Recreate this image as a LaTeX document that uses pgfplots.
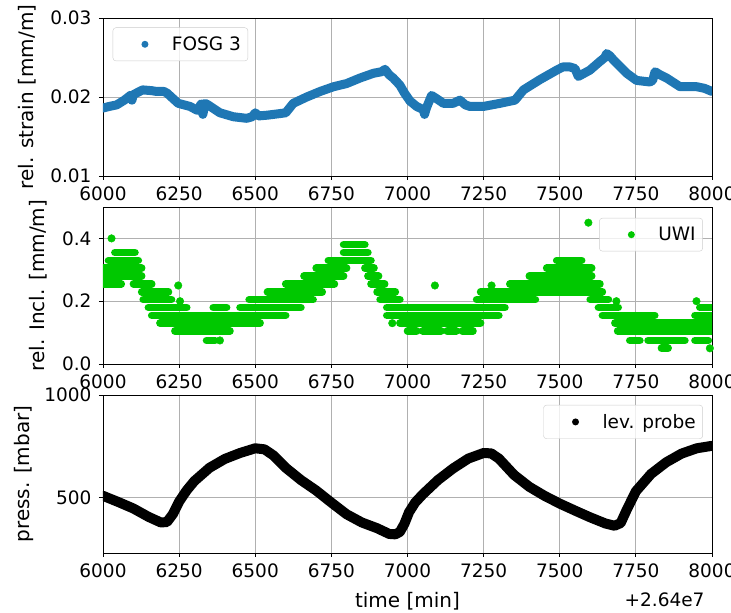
\documentclass[border=0pt]{standalone}
\usepackage{fontspec}
\setmainfont{DejaVu Sans}
\usepackage{pgfplots}
\pgfplotsset{compat=1.18}

\definecolor{mplblue}{HTML}{1F77B4}
\definecolor{uwigreen}{RGB}{0,200,0}
\definecolor{gridgray}{HTML}{B0B0B0}

\newcommand{\fs}{\fontsize{18.5}{22}\selectfont}
\newcommand{\fl}{\fontsize{20}{24}\selectfont}

\pgfplotsset{
  panel/.style={
    scale only axis, width=609pt, height=158pt,
    xmin=6000, xmax=8000,
    xtick={6000,6250,...,8000},
    scaled ticks=false,
    tick pos=left, tick align=outside,
    major tick length=4pt,
    tick style={black, line width=0.8pt},
    axis line style={line width=0.9pt},
    grid=major, grid style={gridgray, line width=0.8pt},
    /pgf/number format/assume math mode=true,
    /pgf/number format/1000 sep={},
    tick label style={font=\fs},
    xticklabel style={yshift=-3pt},
    yticklabel style={xshift=-4pt},
    label style={font=\fl},
    legend style={font=\fs, draw=black!20, rounded corners=3pt, fill=white,
      fill opacity=0.8, text opacity=1, inner xsep=5pt, inner ysep=7pt,
      legend cell align=left},
  },
  % scatter-style legend key: one dot, then room before the text
  dotkey/.style={legend image code/.code={
      \path[draw=none, fill=none] (0pt,0pt) -- (52pt,0pt);
      \fill[#1, draw=none, fill opacity=1] (27pt,0pt) circle (3.5pt);}},
}

\begin{document}
\begin{tikzpicture}
\path[use as bounding box] (0,0) rectangle (731pt,613pt);

% strain
\begin{axis}[panel, at={(103pt,437pt)}, anchor=south west,
  ymin=0.01, ymax=0.03, ytick={0.01,0.02,0.03},
  yticklabel style={/pgf/number format/fixed, /pgf/number format/precision=2,
    /pgf/number format/fixed zerofill},
  ylabel={rel. strain [mm/m]},
  ylabel style={at={([xshift=-75.5pt]rel axis cs:0,0.5)}, anchor=center},
  legend style={at={(0.016,0.94)}, anchor=north west}]
\addlegendimage{dotkey=mplblue}
\addlegendentry{FOSG 3}
\addplot[mplblue, line width=9pt, line join=round, line cap=round, forget plot] coordinates {
(6000,0.0186) (6020,0.0188) (6045,0.0190) (6070,0.0196) (6090,0.0202) (6095,0.0196)
(6100,0.0203) (6130,0.0209) (6160,0.0208) (6176,0.0207) (6200,0.0207) (6210,0.0205)
(6247,0.0192) (6286,0.0188) (6310,0.0183) (6322,0.0191) (6328,0.0178) (6335,0.0192)
(6345,0.0190) (6384,0.0180) (6428,0.0175) (6472,0.0173) (6490,0.0175) (6500,0.0180)
(6510,0.0176) (6540,0.0177) (6581,0.0179) (6600,0.0180) (6625,0.0192) (6669,0.0200)
(6713,0.0207) (6757,0.0213) (6800,0.0217) (6844,0.0224) (6888,0.0230) (6915,0.0232)
(6926,0.0235) (6940,0.0228) (6953,0.0224) (6975,0.0215) (6990,0.0205) (7008,0.0195)
(7030,0.0188) (7052,0.0184) (7056,0.0178) (7062,0.0186) (7079,0.0202) (7095,0.0198)
(7118,0.0192) (7150,0.0192) (7172,0.0196) (7190,0.0190) (7205,0.0188) (7249,0.0188)
(7304,0.0192) (7353,0.0196) (7381,0.0209) (7435,0.0222) (7490,0.0234) (7510,0.0238)
(7534,0.0238) (7550,0.0236) (7561,0.0226) (7599,0.0234) (7632,0.0245) (7648,0.0250)
(7654,0.0255) (7665,0.0252) (7676,0.0247) (7720,0.0230) (7752,0.0221) (7796,0.0219)
(7805,0.0221) (7813,0.0232) (7830,0.0228) (7851,0.0224) (7895,0.0213) (7950,0.0213)
(7975,0.0211) (8000,0.0207)
};
\end{axis}

% inclination
\begin{axis}[panel, at={(103pt,249pt)}, anchor=south west, height=157pt,
  ymin=0, ymax=0.5, ytick={0,0.2,0.4},
  yticklabel style={/pgf/number format/fixed, /pgf/number format/precision=1,
    /pgf/number format/fixed zerofill},
  ylabel={rel. Incl. [mm/m]},
  ylabel style={at={([xshift=-65pt]rel axis cs:0,0.5)}, anchor=center},
  legend style={at={(0.985,0.93)}, anchor=north east}]
\addlegendimage{dotkey=uwigreen}
\addlegendentry{UWI}
% runs of points on each reading level
\addplot[uwigreen, line width=7.6pt, line cap=round, unbounded coords=jump, forget plot] coordinates {
(6790,0.38) (6860,0.38) (6860,nan)
(6039,0.355) (6105,0.355) (6105,nan) (6790,0.355) (6870,0.355) (6870,nan)
(6018,0.33) (6116,0.33) (6116,nan) (6740,0.33) (6880,0.33) (6880,nan) (7490,0.33) (7572,0.33) (7572,nan)
(6000,0.305) (6127,0.305) (6127,nan) (6700,0.305) (6800,0.305) (6800,nan) (6860,0.305) (6890,0.305) (6890,nan) (7457,0.305) (7605,0.305) (7605,nan)
(6000,0.28) (6127,0.28) (6127,nan) (6660,0.28) (6790,0.28) (6790,nan) (6870,0.28) (6905,0.28) (6905,nan) (7400,0.28) (7605,0.28) (7605,nan)
(6000,0.255) (6060,0.255) (6060,nan) (6100,0.255) (6160,0.255) (6160,nan) (6600,0.255) (6760,0.255) (6760,nan) (6880,0.255) (6925,0.255) (6925,nan) (7336,0.255) (7632,0.255) (7632,nan)
(6127,0.23) (6215,0.23) (6215,nan) (6540,0.23) (6720,0.23) (6720,nan) (6900,0.23) (6960,0.23) (6960,nan) (7240,0.23) (7640,0.23) (7640,nan)
(6132,0.205) (6225,0.205) (6225,nan) (6480,0.205) (6690,0.205) (6690,nan) (6910,0.205) (6975,0.205) (6975,nan) (7227,0.205) (7420,0.205) (7420,nan) (7600,0.205) (7660,0.205) (7660,nan)
(6149,0.18) (6275,0.18) (6275,nan) (6362,0.18) (6406,0.18) (6406,nan) (6450,0.18) (6650,0.18) (6650,nan) (6932,0.18) (7320,0.18) (7320,nan) (7627,0.18) (7692,0.18) (7692,nan) (7960,0.18) (8000,0.18) (8000,nan)
(6160,0.155) (6600,0.155) (6600,nan) (6932,0.155) (7300,0.155) (7300,nan) (7640,0.155) (7812,0.155) (7812,nan) (7944,0.155) (8000,0.155) (8000,nan)
(6187,0.13) (6516,0.13) (6516,nan) (6975,0.13) (7240,0.13) (7240,nan) (7681,0.13) (8000,0.13) (8000,nan)
(6236,0.105) (6417,0.105) (6417,nan) (7000,0.105) (7030,0.105) (7030,nan) (7050,0.105) (7110,0.105) (7110,nan) (7130,0.105) (7160,0.105) (7160,nan) (7180,0.105) (7215,0.105) (7215,nan) (7690,0.105) (8000,0.105) (8000,nan)
(6340,0.075) (6368,0.075) (6368,nan) (7730,0.075) (7763,0.075) (7763,nan) (7790,0.075) (7911,0.075) (7911,nan) (7944,0.075) (7988,0.075) (7988,nan)
(7834,0.05) (7856,0.05)
};
\addplot[only marks, mark=*, mark size=3.8pt, uwigreen, forget plot] coordinates {
(6028,0.4) (6247,0.25) (6253,0.2) (6384,0.075) (6950,0.13) (6982,0.13)
(7090,0.25) (7276,0.25) (7594,0.45) (7686,0.2) (7949,0.2) (7993,0.05)
};
\end{axis}

% pressure
\begin{axis}[panel, name=bot, at={(103pt,60pt)}, anchor=south west,
  ymin=229, ymax=1000, ytick={500,1000},
  ylabel={press. [mbar]}, xlabel={time [min]},
  ylabel style={at={([xshift=-79pt]rel axis cs:0,0.5)}, anchor=center},
  xlabel style={at={([yshift=-48pt]rel axis cs:0.5,0)}, anchor=center},
  legend style={at={(0.985,0.937)}, anchor=north east}]
\addlegendimage{dotkey=black}
\addlegendentry{lev. probe}
\addplot[black, line width=10pt, line join=round, line cap=round, forget plot] coordinates {
(6000,508) (6050,478) (6100,446) (6150,405) (6190,378) (6210,380) (6230,420)
(6250,480) (6275,535) (6300,580) (6350,645) (6400,688) (6450,717) (6500,740)
(6530,735) (6560,705) (6600,645) (6650,585) (6700,534) (6750,475) (6800,418)
(6850,378) (6900,350) (6940,322) (6960,320) (6975,332) (6990,372) (7005,428)
(7025,475) (7050,515) (7100,585) (7150,642) (7200,690) (7250,717) (7275,715)
(7300,690) (7350,610) (7400,552) (7450,508) (7500,470) (7550,436) (7600,403)
(7650,373) (7680,362) (7700,375) (7720,440) (7750,530) (7800,615) (7850,672)
(7900,714) (7950,740) (8000,752)
};
\end{axis}
\node[anchor=east, font=\fs, xshift=-4pt, yshift=-47pt] at (bot.south east) {+2.64e7};
\end{tikzpicture}
\end{document}
